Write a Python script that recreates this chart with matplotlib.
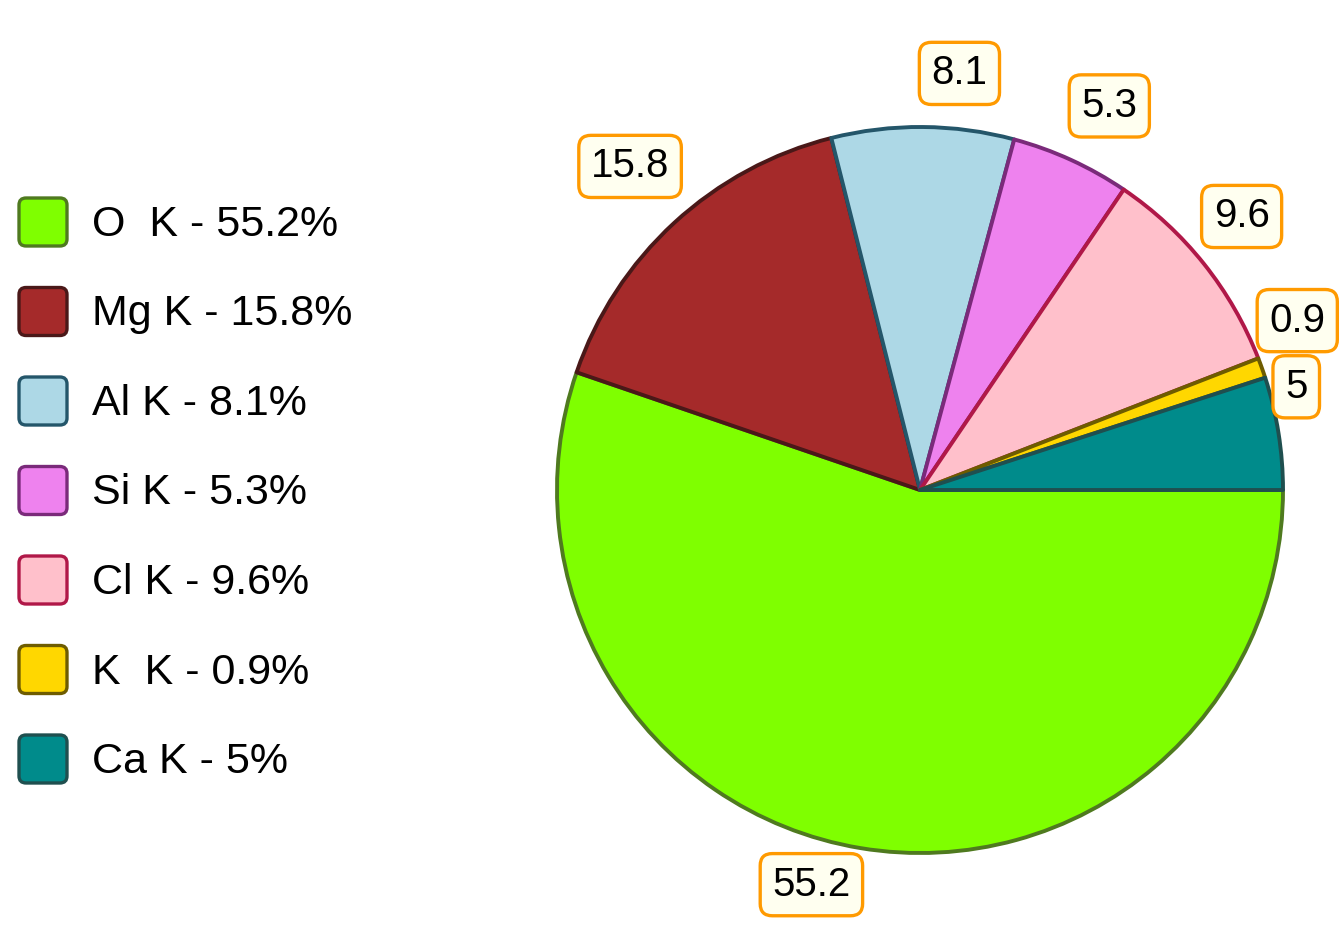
import numpy as np
import matplotlib.pyplot as plt
from matplotlib.patches import FancyBboxPatch

elements = ['O  K', 'Mg K', 'Al K', 'Si K', 'Cl K', 'K  K', 'Ca K']
percent = [55.2, 15.8, 8.1, 5.3, 9.6, 0.9, 5.0]
colors = ['#7FFF00', '#A52A2A', '#ADD8E6', '#EE82EE', '#FFC0CB', '#FFD700', '#008B8B']
edges = ['#4F7A1F', '#4A1818', '#24566A', '#7A2A7A', '#B01848', '#6E5C00', '#1F4F4F']
# pixel nudges so the value boxes sit like the original and don't collide
nudge = [(-37, 35), (5, 3), (36, -19), (8, -12), (-19, 2), (-33, 23), (-54, 35)]

plt.rcParams['font.family'] = ['Liberation Sans', 'DejaVu Sans']

W, H = 1344, 952
fig = plt.figure(figsize=(W / 100, H / 100), dpi=100)

# pie
cx, cy, R = 920, 490, 363
ax = fig.add_axes([(cx - R) / W, (H - cy - R) / H, 2 * R / W, 2 * R / H])
wedges, _ = ax.pie(percent, colors=colors, startangle=0, counterclock=False,
                   wedgeprops=dict(linewidth=2.8, joinstyle='round'))
for w, e in zip(wedges, edges):
    w.set_edgecolor(e)
    w.set_clip_on(False)
ax.set_xlim(-1, 1)
ax.set_ylim(-1, 1)

for w, v, (dx, dy) in zip(wedges, percent, nudge):
    a = np.deg2rad((w.theta1 + w.theta2) / 2)
    ax.annotate(f'{v:g}', xy=(1.2 * np.cos(a), 1.2 * np.sin(a)),
                xytext=(dx, dy), textcoords='offset pixels',
                ha='center', va='center', fontsize=29, annotation_clip=False,
                bbox=dict(boxstyle='round,pad=0.3,rounding_size=0.3',
                          fc='#FFFFF0', ec='#FF9A00', lw=2.4))

# legend drawn by hand (rounded swatches)
lax = fig.add_axes([0, 0, 1, 1])
lax.set_xlim(0, W)
lax.set_ylim(H, 0)
lax.axis('off')
for i, (name, v, c, e) in enumerate(zip(elements, percent, colors, edges)):
    y = 222 + i * 89.5
    lax.add_patch(FancyBboxPatch((19, y - 24), 48, 48,
                                 boxstyle='round,pad=0,rounding_size=7',
                                 fc=c, ec=e, lw=2.4))
    lax.text(92, y + 3, f'{name} - {v:g}%', fontsize=31, va='center', ha='left')

fig.savefig('out.png', dpi=100)
